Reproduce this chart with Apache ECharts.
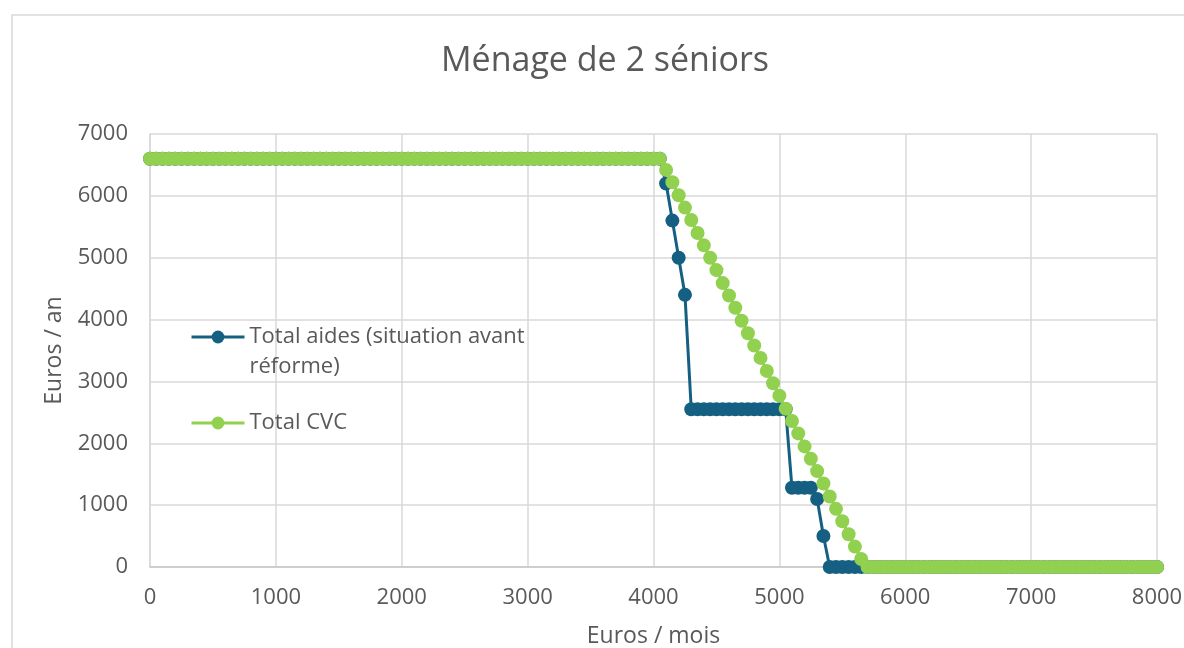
<!DOCTYPE html>
<html lang="fr">
<head>
    <meta charset="utf-8">
    <title>Ménage de 2 séniors</title>
    <script src="https://cdn.jsdelivr.net/npm/echarts@6/dist/echarts.min.js"></script>
    <style>
        html, body {margin: 0; padding: 0; background: #fff;}
        #main {width: 1184px; height: 648px;}
    </style>
</head>
<body>
<div id="main"></div>

<script type="text/javascript">
    // revenus mensuels (euros / mois), un point tous les 50 euros
    var revenus = [
        0, 50, 100, 150, 200, 250, 300, 350, 400, 450, 500, 550, 600, 650, 700, 750, 800, 850, 900, 950,
        1000, 1050, 1100, 1150, 1200, 1250, 1300, 1350, 1400, 1450, 1500, 1550, 1600, 1650, 1700, 1750, 1800, 1850, 1900, 1950,
        2000, 2050, 2100, 2150, 2200, 2250, 2300, 2350, 2400, 2450, 2500, 2550, 2600, 2650, 2700, 2750, 2800, 2850, 2900, 2950,
        3000, 3050, 3100, 3150, 3200, 3250, 3300, 3350, 3400, 3450, 3500, 3550, 3600, 3650, 3700, 3750, 3800, 3850, 3900, 3950,
        4000, 4050, 4100, 4150, 4200, 4250, 4300, 4350, 4400, 4450, 4500, 4550, 4600, 4650, 4700, 4750, 4800, 4850, 4900, 4950,
        5000, 5050, 5100, 5150, 5200, 5250, 5300, 5350, 5400, 5450, 5500, 5550, 5600, 5650, 5700, 5750, 5800, 5850, 5900, 5950,
        6000, 6050, 6100, 6150, 6200, 6250, 6300, 6350, 6400, 6450, 6500, 6550, 6600, 6650, 6700, 6750, 6800, 6850, 6900, 6950,
        7000, 7050, 7100, 7150, 7200, 7250, 7300, 7350, 7400, 7450, 7500, 7550, 7600, 7650, 7700, 7750, 7800, 7850, 7900, 7950,
        8000
    ];

    // Total aides (situation avant réforme), euros / an
    var totalAides = [
        6600, 6600, 6600, 6600, 6600, 6600, 6600, 6600, 6600, 6600, 6600, 6600, 6600, 6600, 6600, 6600, 6600, 6600, 6600, 6600,
        6600, 6600, 6600, 6600, 6600, 6600, 6600, 6600, 6600, 6600, 6600, 6600, 6600, 6600, 6600, 6600, 6600, 6600, 6600, 6600,
        6600, 6600, 6600, 6600, 6600, 6600, 6600, 6600, 6600, 6600, 6600, 6600, 6600, 6600, 6600, 6600, 6600, 6600, 6600, 6600,
        6600, 6600, 6600, 6600, 6600, 6600, 6600, 6600, 6600, 6600, 6600, 6600, 6600, 6600, 6600, 6600, 6600, 6600, 6600, 6600,
        6600, 6600, 6200, 5600, 5000, 4400, 2550, 2550, 2550, 2550, 2550, 2550, 2550, 2550, 2550, 2550, 2550, 2550, 2550, 2550,
        2550, 2550, 1280, 1280, 1280, 1280, 1100, 500, 0, 0, 0, 0, 0, 0, 0, 0, 0, 0, 0, 0,
        0, 0, 0, 0, 0, 0, 0, 0, 0, 0, 0, 0, 0, 0, 0, 0, 0, 0, 0, 0,
        0, 0, 0, 0, 0, 0, 0, 0, 0, 0, 0, 0, 0, 0, 0, 0, 0, 0, 0, 0,
        0
    ];

    // Total CVC, euros / an
    var totalCVC = [
        6600, 6600, 6600, 6600, 6600, 6600, 6600, 6600, 6600, 6600, 6600, 6600, 6600, 6600, 6600, 6600, 6600, 6600, 6600, 6600,
        6600, 6600, 6600, 6600, 6600, 6600, 6600, 6600, 6600, 6600, 6600, 6600, 6600, 6600, 6600, 6600, 6600, 6600, 6600, 6600,
        6600, 6600, 6600, 6600, 6600, 6600, 6600, 6600, 6600, 6600, 6600, 6600, 6600, 6600, 6600, 6600, 6600, 6600, 6600, 6600,
        6600, 6600, 6600, 6600, 6600, 6600, 6600, 6600, 6600, 6600, 6600, 6600, 6600, 6600, 6600, 6600, 6600, 6600, 6600, 6600,
        6600, 6600, 6420, 6220, 6010, 5810, 5610, 5400, 5200, 5000, 4800, 4590, 4390, 4190, 3980, 3780, 3580, 3380, 3170, 2970,
        2770, 2560, 2360, 2160, 1950, 1750, 1550, 1350, 1140, 940, 740, 530, 330, 130, 0, 0, 0, 0, 0, 0,
        0, 0, 0, 0, 0, 0, 0, 0, 0, 0, 0, 0, 0, 0, 0, 0, 0, 0, 0, 0,
        0, 0, 0, 0, 0, 0, 0, 0, 0, 0, 0, 0, 0, 0, 0, 0, 0, 0, 0, 0,
        0
    ];

    var nomAides = 'Total aides (situation avant réforme)';
    var nomCVC = 'Total CVC';

    function paires(valeurs) {
        return revenus.map(function (r, i) { return [r, valeurs[i]]; });
    }

    // pas de séparateur de milliers sur les graduations
    function brut(v) { return String(v); }

    var police = '"Open Sans", Roboto, sans-serif';
    var gris = '#595959';

    var myChart = echarts.init(document.getElementById('main'));

    var option = {
        animation: false,
        backgroundColor: '#fff',
        textStyle: {fontFamily: police},
        title: {
            text: 'Ménage de 2 séniors',
            left: 600,
            top: 39,
            textAlign: 'center',
            textStyle: {color: gris, fontSize: 34, fontWeight: 'normal', fontFamily: police}
        },
        graphic: [{
            type: 'rect',
            shape: {x: 12, y: 15, width: 1300, height: 800},
            style: {fill: 'none', stroke: '#d9d9d9', lineWidth: 1.5},
            silent: true
        }],
        legend: [{
            orient: 'vertical',
            left: 190,
            top: 292,
            padding: 0,
            itemWidth: 53,
            itemHeight: 16,
            data: [nomAides],
            lineStyle: {width: 3},
            // ligne vide en tête pour aligner la 1re ligne sur le symbole
            formatter: function () { return '\nTotal aides (situation avant\nréforme)'; },
            textStyle: {color: gris, fontSize: 22, fontFamily: police, lineHeight: 30}
        }, {
            orient: 'vertical',
            left: 190,
            top: 412,
            padding: 0,
            itemWidth: 53,
            itemHeight: 16,
            data: [nomCVC],
            lineStyle: {width: 3},
            textStyle: {color: gris, fontSize: 22, fontFamily: police}
        }],
        grid: {
            left: 150,
            right: 27,
            top: 134,
            bottom: 81,
            outerBoundsMode: 'none'
        },
        xAxis: {
            type: 'value',
            min: 0,
            max: 8000,
            interval: 1000,
            name: 'Euros / mois',
            nameLocation: 'middle',
            nameGap: 58,
            nameTextStyle: {color: gris, fontSize: 23, fontFamily: police},
            axisLine: {lineStyle: {color: '#c8c8c8', width: 1.5}},
            axisTick: {show: false},
            axisLabel: {color: gris, fontSize: 22, margin: 20, fontFamily: police, formatter: brut},
            splitLine: {show: true, lineStyle: {color: '#d9d9d9', width: 1.5}}
        },
        yAxis: {
            type: 'value',
            min: 0,
            max: 7000,
            interval: 1000,
            name: 'Euros / an',
            nameLocation: 'middle',
            nameGap: 84,
            nameTextStyle: {color: gris, fontSize: 23, fontFamily: police},
            axisLine: {show: true, lineStyle: {color: '#d9d9d9', width: 1.5}},
            axisTick: {show: false},
            axisLabel: {color: gris, fontSize: 22, margin: 22, fontFamily: police, formatter: brut},
            splitLine: {show: true, lineStyle: {color: '#d9d9d9', width: 1.5}}
        },
        series: [{
            name: nomAides,
            type: 'line',
            data: paires(totalAides),
            color: '#156082',
            symbol: 'circle',
            symbolSize: 14,
            showAllSymbol: true,
            lineStyle: {width: 3},
            z: 2
        }, {
            name: nomCVC,
            type: 'line',
            data: paires(totalCVC),
            color: '#92d050',
            symbol: 'circle',
            symbolSize: 14,
            showAllSymbol: true,
            lineStyle: {width: 3},
            z: 3
        }]
    };
    myChart.setOption(option);
</script>
</body>
</html>
